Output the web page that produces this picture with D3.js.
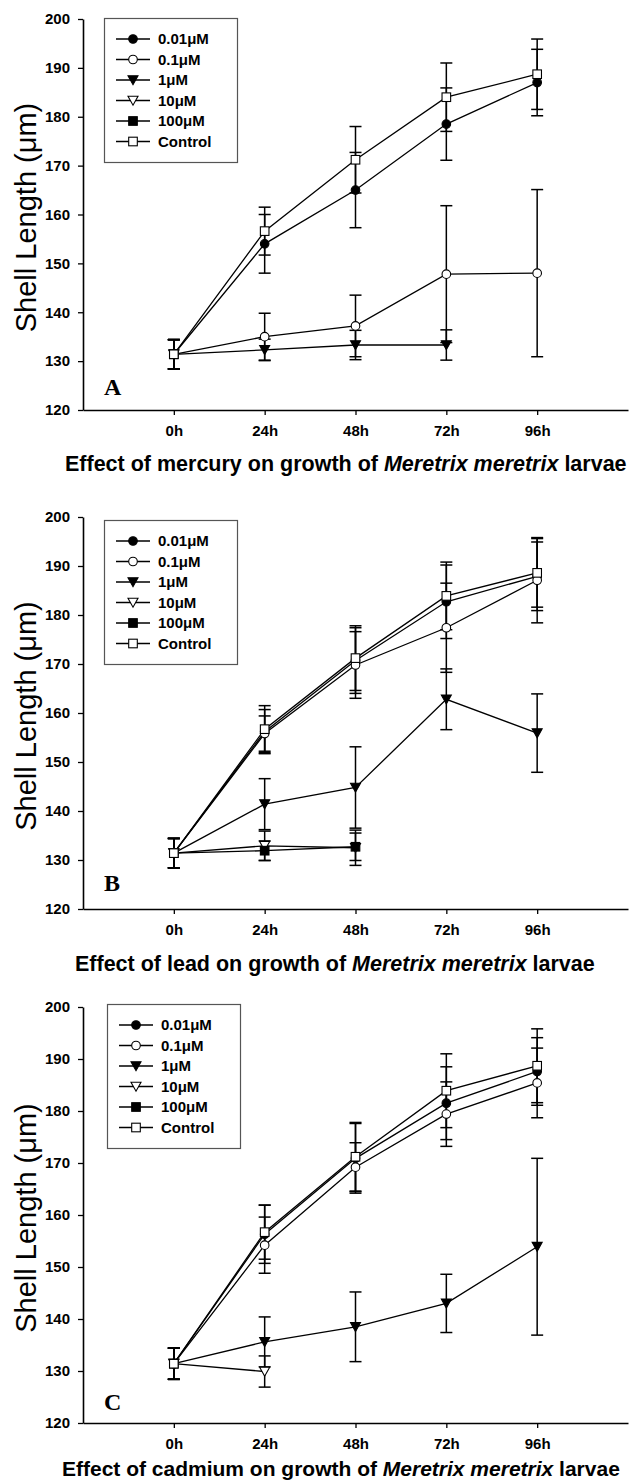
<!DOCTYPE html>
<html><head><meta charset="utf-8">
<script src="https://cdn.jsdelivr.net/npm/d3@7"></script>
<style>body{margin:0;background:#fff}</style>
</head><body><div id="chart"></div>
<script>
const timeLabels = ["0h","24h","48h","72h","96h"];
const concentrations = ["0.01μM","0.1μM","1μM","10μM","100μM","Control"];
const markerTypes = ["circleFilled","circleOpen","triFilled","triOpen","squareFilled","squareOpen"];
const yTicks = [120,130,140,150,160,170,180,190,200];
const metals = ["mercury","lead","cadmium"];
const panelLetters = ["A","B","C"];

// Panel A: mercury (rows follow concentrations order)
const mercuryMeans = [
  [131.4, 154.0, 165.0, 178.5, 187.0],
  [131.4, 135.0, 137.2, 147.8, 148.0],
  [131.4, 132.3, 133.3, 133.3, null],
  [131.4, null, null, null, null],
  [131.4, null, null, null, null],
  [131.4, 156.6, 171.2, 184.0, 188.7]
];
const mercuryErrors = [
  [3.0, 6.0, 7.7, 7.4, 6.8],
  [3.0, 4.8, 6.3, 14.0, 17.1],
  [3.0, 2.2, 3.0, 3.1, null],
  [3.0, null, null, null, null],
  [3.0, null, null, null, null],
  [3.0, 4.9, 6.8, 7.0, 7.2]
];
// Panel B: lead
const leadMeans = [
  [131.4, 156.2, 170.7, 182.7, 187.9],
  [131.4, 155.8, 169.8, 177.4, 187.1],
  [131.4, 141.4, 144.8, 162.8, 155.9],
  [131.4, 132.9, 132.5, null, null],
  [131.4, 131.9, 132.7, null, null],
  [131.4, 156.7, 171.2, 183.9, 188.6]
];
const leadErrors = [
  [3.0, 4.5, 6.7, 7.5, 7.0],
  [3.0, 3.6, 6.8, 9.1, 8.7],
  [3.0, 5.2, 8.3, 6.2, 8.0],
  [3.0, 3.0, 3.6, null, null],
  [3.0, 2.0, 2.8, null, null],
  [3.0, 4.8, 6.6, 6.9, 7.0]
];
// Panel C: cadmium
const cadmiumMeans = [
  [131.4, 156.3, 170.9, 181.5, 187.6],
  [131.4, 154.2, 169.2, 179.4, 185.4],
  [131.4, 135.6, 138.5, 143.0, 153.9],
  [131.4, 129.9, null, null, null],
  [131.4, null, null, null, null],
  [131.4, 156.7, 171.2, 183.9, 188.7]
];
const cadmiumErrors = [
  [3.0, 5.6, 6.7, 7.0, 6.5],
  [3.0, 5.4, 4.7, 6.2, 6.7],
  [3.0, 4.8, 6.7, 5.6, 17.0],
  [3.0, 3.0, null, null, null],
  [3.0, null, null, null, null],
  [3.0, 5.2, 6.6, 7.1, 7.1]
];

const panelMeans = [mercuryMeans, leadMeans, cadmiumMeans];
const panelErrors = [mercuryErrors, leadErrors, cadmiumErrors];

// layout (pixels)
const layout = [
  {top:19,  bottom:410,  legX:104, legY:18,   letterY:395,  titleX:65, titleY:471,  titleSize:21.5},
  {top:517, bottom:909,  legX:104, legY:520,  letterY:891,  titleX:75, titleY:971,  titleSize:21.5},
  {top:1007,bottom:1423, legX:107, legY:1004, letterY:1410, titleX:62, titleY:1476, titleSize:21}
];
const SANS = "'Liberation Sans', Arial, sans-serif";
const SERIF = "'Liberation Serif', 'Times New Roman', serif";

const svg = d3.select("#chart").append("svg")
  .attr("width",632).attr("height",1480)
  .style("background","#fff");

function drawMarker(sel, type, cx, cy){
  const filled = type.endsWith("Filled");
  const fill = filled ? "#000" : "#fff";
  if (type.startsWith("circle")) {
    sel.append("circle").attr("cx",cx).attr("cy",cy).attr("r",4.3)
      .attr("fill",fill).attr("stroke","#000").attr("stroke-width",1.1);
  } else if (type.startsWith("square")) {
    sel.append("rect").attr("x",cx-4.3).attr("y",cy-4.3).attr("width",8.6).attr("height",8.6)
      .attr("fill",fill).attr("stroke","#000").attr("stroke-width",1.1);
  } else {
    sel.append("path")
      .attr("d",`M${cx-5},${cy-4.3}L${cx+5},${cy-4.3}L${cx},${cy+4.7}Z`)
      .attr("fill",fill).attr("stroke","#000").attr("stroke-width",1.1);
  }
}

layout.forEach((L, pi) => {
  const means = panelMeans[pi], errs = panelErrors[pi];
  const x = d3.scaleLinear().domain([-1,5]).range([83,628]);
  const y = d3.scaleLinear().domain([120,200]).range([L.bottom, L.top]);
  const g = svg.append("g");

  // axes
  const ya = g.append("g").attr("transform","translate(83,0)")
    .call(d3.axisLeft(y).tickValues(yTicks).tickSize(5).tickPadding(8).tickSizeOuter(0));
  const xa = g.append("g").attr("transform",`translate(0,${L.bottom})`)
    .call(d3.axisBottom(x).tickValues([0,1,2,3,4]).tickFormat(i=>timeLabels[i])
      .tickSize(5).tickPadding(10).tickSizeOuter(0));
  [ya, xa].forEach(a => {
    a.select(".domain").attr("stroke","#000").attr("stroke-width",1.6);
    a.selectAll(".tick line").attr("stroke","#000").attr("stroke-width",1.3);
    a.selectAll(".tick text").attr("fill","#000")
      .style("font-family",SANS).style("font-weight","bold").style("font-size","15px");
  });

  // y label
  const cy = (L.top + L.bottom)/2 + 3;
  g.append("text").attr("transform",`translate(36,${cy}) rotate(-90)`)
    .attr("text-anchor","middle")
    .style("font-family",SANS).style("font-size","29px").attr("fill","#000")
    .text("Shell Length (μm)");

  // title
  const t = g.append("text").attr("x",L.titleX).attr("y",L.titleY)
    .style("font-family",SANS).style("font-size",L.titleSize+"px").style("font-weight","bold").attr("fill","#000");
  t.append("tspan").text(`Effect of ${metals[pi]} on growth of `);
  t.append("tspan").style("font-style","italic").text("Meretrix meretrix");
  t.append("tspan").text(" larvae");

  // panel letter
  g.append("text").attr("x",104).attr("y",L.letterY)
    .style("font-family",SERIF).style("font-weight","bold").style("font-size","24px")
    .attr("fill","#000").text(panelLetters[pi]);

  // lines
  const line = d3.line().defined(d => d[1] != null)
    .x(d => x(d[0])).y(d => y(d[1]));
  means.forEach(row => {
    g.append("path").datum(row.map((v,i)=>[i,v]))
      .attr("d", line).attr("fill","none").attr("stroke","#000").attr("stroke-width",1.3);
  });
  // error bars
  means.forEach((row, si) => {
    row.forEach((v,i) => {
      const e = errs[si][i];
      if (v == null || e == null) return;
      const xx = x(i), y1 = y(v+e), y2 = y(v-e);
      g.append("line").attr("x1",xx).attr("x2",xx).attr("y1",y1).attr("y2",y2)
        .attr("stroke","#000").attr("stroke-width",1.5);
      [y1,y2].forEach(yy => g.append("line").attr("x1",xx-6).attr("x2",xx+6)
        .attr("y1",yy).attr("y2",yy).attr("stroke","#000").attr("stroke-width",1.5));
    });
  });
  // markers
  means.forEach((row, si) => {
    row.forEach((v,i) => { if (v != null) drawMarker(g, markerTypes[si], x(i), y(v)); });
  });

  // legend
  const lg = g.append("g");
  lg.append("rect").attr("x",L.legX+0.5).attr("y",L.legY+0.5).attr("width",133).attr("height",144)
    .attr("fill","#fff").attr("stroke","#555").attr("stroke-width",1.2);
  concentrations.forEach((c, k) => {
    const ry = L.legY + 21 + k*20.5;
    lg.append("line").attr("x1",L.legX+12).attr("x2",L.legX+46).attr("y1",ry).attr("y2",ry)
      .attr("stroke","#000").attr("stroke-width",1.3);
    drawMarker(lg, markerTypes[k], L.legX+29, ry);
    lg.append("text").attr("x",L.legX+54).attr("y",ry+5.4)
      .style("font-family",SANS).style("font-weight","bold").style("font-size","15px")
      .attr("fill","#000").text(c);
  });
});
</script></body></html>
